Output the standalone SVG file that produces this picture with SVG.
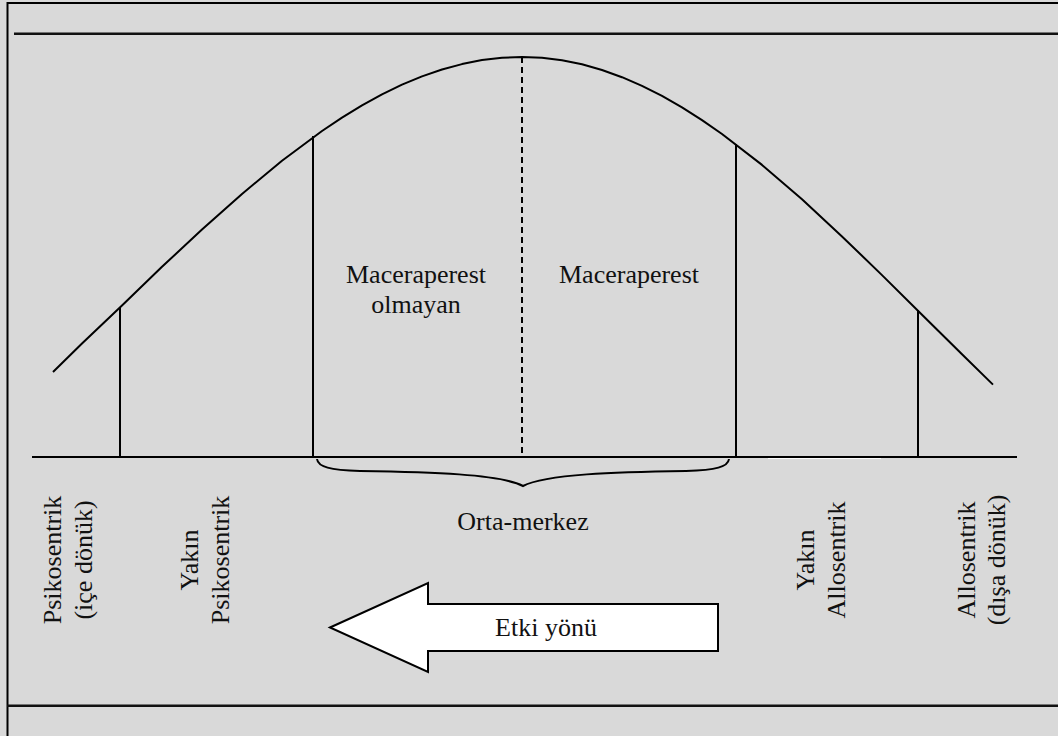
<svg xmlns="http://www.w3.org/2000/svg" width="1058" height="736" viewBox="0 0 1058 736">
  <defs>
    <style>
      .ln { stroke: #000; stroke-width: 2; fill: none; }
      .rule { stroke: #111; stroke-width: 2.4; fill: none; }
      .dash { stroke: #000; stroke-width: 2; stroke-dasharray: 6 4; fill: none; }
      .lbl { font-size: 26px; fill: #111; text-anchor: middle; }
    </style>
  </defs>

  <!-- page background and frame -->
  <rect x="0" y="0" width="1058" height="736" fill="#d9d9d9"/>
  <g id="frame">
    <polyline class="ln" points="7.5,740 7.5,3 1060,3"/>
    <line class="rule" x1="14" y1="33.7" x2="1060" y2="33.7"/>
    <line class="rule" x1="7" y1="705.7" x2="1060" y2="705.7"/>
  </g>

  <!-- distribution curve, axis and dividers -->
  <g id="connectors">
    <path id="curve" class="ln" stroke-linejoin="round" d="M53,372 L82,343.5 L122,305.5 L162,266.8 L202,229.6 L242,193.9 L282,160.8 L322,131 L342,117.7 L362,105.4 L382,94.4 L402,84.7 L422,76.4 L442,69.5 L462,64.1 L482,60.1 L502,57.8 L522,57 L542,57.8 L562,60.3 L582,64.3 L602,70 L622,77.2 L642,85.8 L662,95.9 L682,107.4 L702,120.1 L722,134 L762,164.9 L802,199.3 L842,236.4 L882,275.1 L922,314.7 L962,354.3 L993,384.6"/>
    <line id="axis" class="ln" x1="32" y1="457" x2="1017" y2="457"/>
    <line x1="768" y1="458.6" x2="881" y2="458.6" stroke="#ffffff" stroke-width="1"/>
    <line class="ln" x1="120" y1="307" x2="120" y2="457"/>
    <line class="ln" x1="313" y1="136" x2="313" y2="457"/>
    <line class="dash" x1="522" y1="57" x2="522" y2="457"/>
    <line class="ln" x1="736" y1="144" x2="736" y2="457"/>
    <line class="ln" x1="918" y1="310" x2="918" y2="457"/>
    <path id="brace" class="ln" stroke-width="1.8" d="M317,459 C318,467 330,470 360,471 C430,472 500,474 523,486 C546,474 616,472 686,471 C716,470 728,467 729,459"/>
  </g>

  <g font-family="'Liberation Serif', 'DejaVu Serif', serif">
    <g id="node-maceraperest-olmayan">
      <text class="lbl" x="416" y="283">Maceraperest</text>
      <text class="lbl" x="416" y="313">olmayan</text>
    </g>
    <g id="node-maceraperest">
      <text class="lbl" x="629" y="283">Maceraperest</text>
    </g>
    <g id="node-orta-merkez">
      <text class="lbl" x="523" y="530">Orta-merkez</text>
    </g>

    <g id="node-psikosentrik">
      <text class="lbl" transform="translate(61,560) rotate(-90)">Psikosentrik</text>
      <text class="lbl" transform="translate(92,560) rotate(-90)">(içe dönük)</text>
    </g>
    <g id="node-yakin-psikosentrik">
      <text class="lbl" transform="translate(198,560) rotate(-90)">Yakın</text>
      <text class="lbl" transform="translate(229,560) rotate(-90)">Psikosentrik</text>
    </g>
    <g id="node-yakin-allosentrik">
      <text class="lbl" transform="translate(814,560) rotate(-90)">Yakın</text>
      <text class="lbl" transform="translate(845,560) rotate(-90)">Allosentrik</text>
    </g>
    <g id="node-allosentrik">
      <text class="lbl" transform="translate(975,560) rotate(-90)">Allosentrik</text>
      <text class="lbl" transform="translate(1005,560) rotate(-90)">(dışa dönük)</text>
    </g>

    <g id="node-etki-yonu">
      <polygon points="330,627.5 428,583 428,604 718,604 718,651 428,651 428,672" fill="#ffffff" stroke="#000" stroke-width="2" stroke-linejoin="miter"/>
      <text class="lbl" x="546" y="636">Etki yönü</text>
    </g>
  </g>
</svg>
